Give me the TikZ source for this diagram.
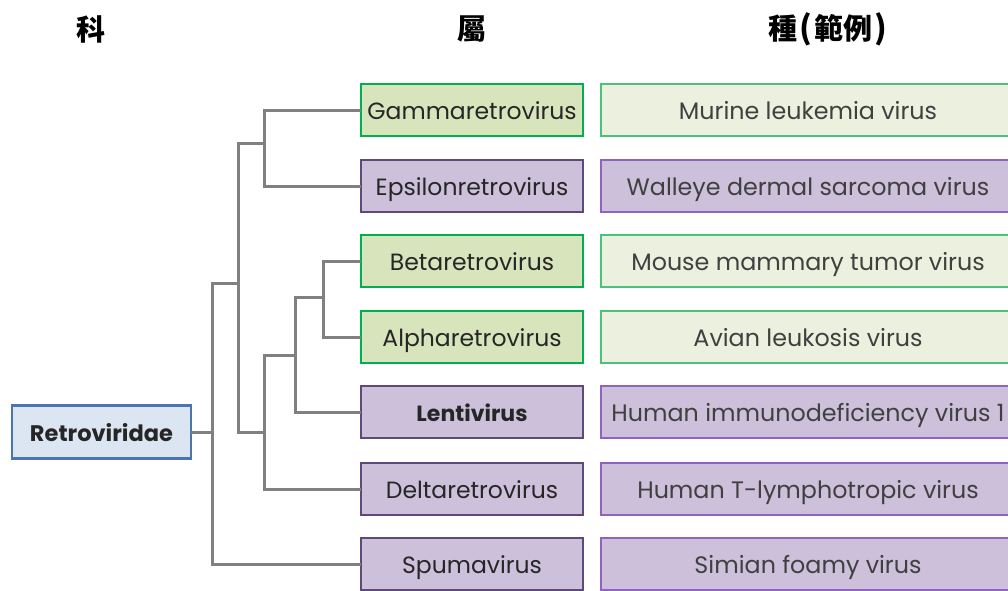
\documentclass[tikz,border=0pt]{standalone}
\usepackage{fontspec}
\setmainfont{Poppins}
\newfontfamily\cjk{Noto Sans CJK TC}
\definecolor{ggfill}{HTML}{D8E4BC}
\definecolor{ggdraw}{HTML}{00B050}
\definecolor{gpfill}{HTML}{CCC0DA}
\definecolor{gpdraw}{HTML}{5F497A}
\definecolor{sgfill}{HTML}{EBF1DE}
\definecolor{sgdraw}{HTML}{4CC17C}
\definecolor{spfill}{HTML}{CCC0DA}
\definecolor{spdraw}{HTML}{9163C0}
\definecolor{rfill}{HTML}{DCE6F2}
\definecolor{rdraw}{HTML}{4A76AD}
\definecolor{treec}{HTML}{808080}
\definecolor{txt}{HTML}{262626}
\definecolor{stxt}{HTML}{404040}
\begin{document}
\begin{tikzpicture}[x=1pt,y=-1pt,
  box/.style={rectangle,inner sep=0pt,text height=19pt,text depth=1pt},
  genus/.style={box,minimum width=222pt,minimum height=52pt,line width=2.5pt,
    text=txt,font=\fontsize{23.5}{26}\selectfont},
  gg/.style={genus,fill=ggfill,draw=ggdraw},
  gp/.style={genus,fill=gpfill,draw=gpdraw},
  species/.style={box,minimum width=414pt,minimum height=52pt,line width=2pt,
    text=stxt,font=\fontsize{23.8}{26}\selectfont},
  sg/.style={species,fill=sgfill,draw=sgdraw},
  sp/.style={species,fill=spfill,draw=spdraw},
  tree/.style={draw=treec,line width=3pt,line join=miter,line cap=rect},
  head/.style={font=\cjk\bfseries\fontsize{29}{32}\selectfont,text=black,inner sep=0pt}]
\useasboundingbox (0,0) rectangle (1008,590);
\begin{scope}
\clip (0,0) rectangle (1008,590);
% headers
\node[head] (h1) at (91,29) {科};
\node[head] (h2) at (472,29) {屬};
\node[head] (h3) at (828,29) {種\kern2pt{\fontsize{32}{32}\selectfont(}\kern2pt範例\kern2pt{\fontsize{32}{32}\selectfont)}};
% root
\node[box,minimum width=179pt,minimum height=53pt,line width=2.5pt,fill=rfill,draw=rdraw,
  text=txt,font=\bfseries\fontsize{22.5}{26}\selectfont] (R) at (101.5,432) {Retroviridae};
% genus
\node[gg] (gamma) at (472,110) {Gammaretrovirus};
\node[gp] (eps) at (472,186) {Epsilonretrovirus};
\node[gg] (beta) at (472,261) {Betaretrovirus};
\node[gg] (alpha) at (472,337) {Alpharetrovirus};
\node[gp,font=\bfseries\fontsize{22}{26}\selectfont] (lenti) at (472,412) {Lentivirus};
\node[gp] (delta) at (472,489) {Deltaretrovirus};
\node[gp] (spuma) at (472,564) {Spumavirus};
% species
\node[sg] (s1) at (808,110) {Murine leukemia virus};
\node[sp] (s2) at (808,186) {Walleye dermal sarcoma virus};
\node[sg] (s3) at (808,261) {Mouse mammary tumor virus};
\node[sg] (s4) at (808,337) {Avian leukosis virus};
\node[sp] (s5) at (808,412) {Human immunodeficiency virus 1};
\node[sp] (s6) at (808,489) {Human T-lymphotropic virus};
\node[sp] (s7) at (808,564) {Simian foamy virus};
% tree
\coordinate (c1) at (212,283);
\coordinate (c2) at (238,283);
\coordinate (c2t) at (238,143);
\coordinate (c2b) at (238,432);
\coordinate (c3) at (264,143);
\coordinate (c4) at (264,432);
\coordinate (c5) at (264,355);
\coordinate (c5r) at (295,355);
\coordinate (c6) at (295,297);
\coordinate (c7) at (323,297);
\coordinate (r0) at (212,432);
\draw[tree] (R.east) -- (r0);
\draw[tree] (c1) |- (spuma.west);
\draw[tree] (c1) -- (c2);
\draw[tree] (c2t) -- (c2b) -- (c4);
\draw[tree] (c2t) -- (c3);
\draw[tree] (gamma.west) -| (c3) |- (eps.west);
\draw[tree] (c5) |- (delta.west);
\draw[tree] (c5) -- (c5r);
\draw[tree] (c6) |- (lenti.west);
\draw[tree] (c6) -- (c7);
\draw[tree] (beta.west) -| (c7) |- (alpha.west);
\end{scope}
\end{tikzpicture}
\end{document}
